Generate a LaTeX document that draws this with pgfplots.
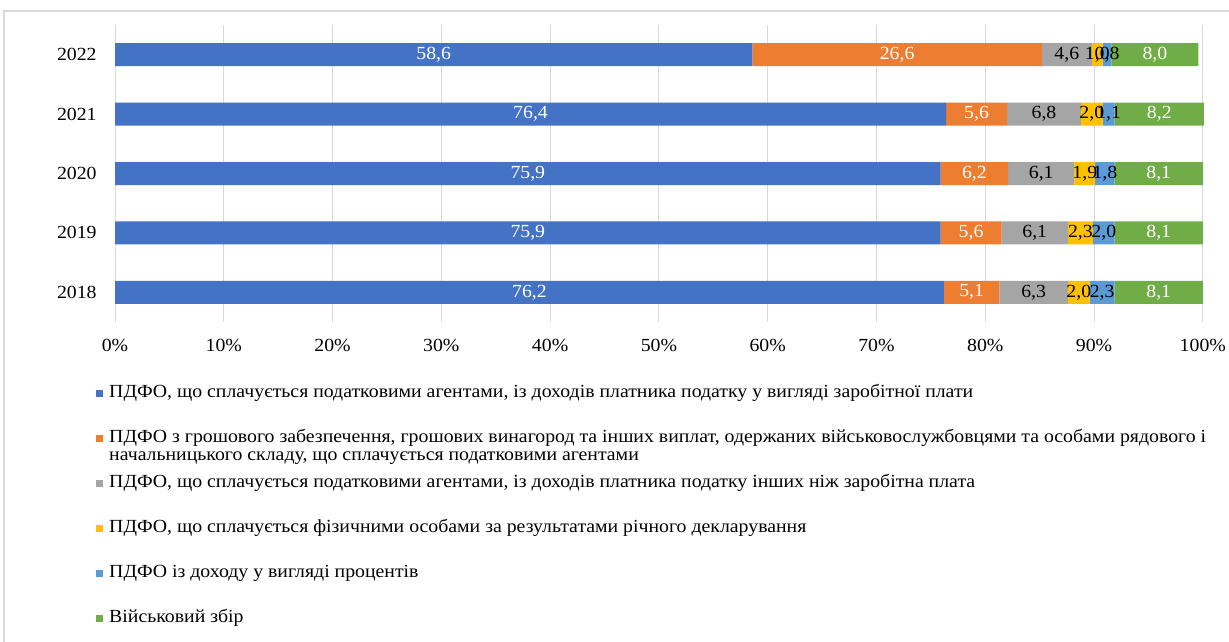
\documentclass[border=0pt]{standalone}
\usepackage{fontspec}
\setmainfont[FakeStretch=1.07]{Liberation Serif}
\usepackage{pgfplots}
\pgfplotsset{compat=1.18}
\definecolor{c1}{HTML}{4472C4}
\definecolor{c2}{HTML}{ED7D31}
\definecolor{c3}{HTML}{A5A5A5}
\definecolor{c4}{HTML}{FFC000}
\definecolor{c5}{HTML}{5B9BD5}
\definecolor{c6}{HTML}{70AD47}
\definecolor{gridc}{HTML}{D9D9D9}
\pgfplotsset{
  mylegend/.style={legend image code/.code={\fill[##1] (0pt,-3.5pt) rectangle (7pt,3.5pt);}},
}
\begin{document}
\fontsize{18.5}{18}\selectfont
\begin{tikzpicture}
\path[use as bounding box] (0,0) rectangle (1229pt,641pt);
\draw[gridc, line width=1.5pt] (4pt,-10pt) -- (4pt,630pt) -- (1240pt,630pt);
\begin{axis}[
  at={(115pt,319pt)}, anchor=south west,
  scale only axis, x=10.878pt, y=59.4pt,
  xmin=0, xmax=100.2, ymin=-0.5, ymax=4.5,
  xbar stacked, bar width=23pt,
  axis line style={draw=none},
  xmajorgrids, grid style={gridc, line width=1pt},
  major tick length=0pt,
  xtick={0,10,...,100},
  xticklabels={0\%,10\%,20\%,30\%,40\%,50\%,60\%,70\%,80\%,90\%,100\%},
  ytick={0,1,2,3,4},
  yticklabels={2018,2019,2020,2021,2022},
  xticklabel style={yshift=-11pt},
  yticklabel style={xshift=-12pt},
  tick label style={font=\fontsize{18.5}{18}\selectfont},
  point meta=explicit,
  nodes near coords={\pgfmathprintnumber[fixed,fixed zerofill,precision=1,use comma,assume math mode=true]{\pgfplotspointmeta}},
  every node near coord/.append style={anchor=center, font=\fontsize{18.5}{18}\selectfont, inner sep=0pt},
  legend cell align=left,
  legend style={at={(axis description cs:-0.0174,-0.212)}, anchor=north west, draw=none, fill=none, inner sep=0pt,
    row sep=29pt, nodes={inner sep=0pt, text height=12pt, text depth=4pt},
    /tikz/every odd column/.append style={column sep=6pt}},
]
\addplot[fill=c1, draw=none, mylegend, every node near coord/.append style={text=white}] coordinates {(76.2,0) [76.2] (75.9,1) [75.9] (75.9,2) [75.9] (76.4,3) [76.4] (58.6,4) [58.6]};
\addlegendentry{ПДФО, що сплачується податковими агентами, із доходів платника податку у вигляді заробітної плати}
\addplot[fill=c2, draw=none, mylegend, every node near coord/.append style={text=white}] coordinates {(5.1,0) [5.1] (5.6,1) [5.6] (6.2,2) [6.2] (5.6,3) [5.6] (26.6,4) [26.6]};
\addlegendentry{\smash{\begin{tabular}[t]{@{}l@{}}ПДФО з грошового забезпечення, грошових винагород та інших виплат, одержаних військовослужбовцями та особами рядового і\\начальницького складу, що сплачується податковими агентами\end{tabular}}}
\addplot[fill=c3, draw=none, mylegend, every node near coord/.append style={text=black}] coordinates {(6.3,0) [6.3] (6.1,1) [6.1] (6.1,2) [6.1] (6.8,3) [6.8] (4.6,4) [4.6]};
\addlegendentry{ПДФО, що сплачується податковими агентами, із доходів платника податку інших ніж заробітна плата}
\addplot[fill=c4, draw=none, mylegend, every node near coord/.append style={text=black}] coordinates {(2.0,0) [2.0] (2.3,1) [2.3] (1.9,2) [1.9] (2.0,3) [2.0] (1.0,4) [1.0]};
\addlegendentry{ПДФО, що сплачується фізичними особами за результатами річного декларування}
\addplot[fill=c5, draw=none, mylegend, every node near coord/.append style={text=black}] coordinates {(2.3,0) [2.3] (2.0,1) [2.0] (1.8,2) [1.8] (1.1,3) [1.1] (0.8,4) [0.8]};
\addlegendentry{ПДФО із доходу у вигляді процентів}
\addplot[fill=c6, draw=none, mylegend, every node near coord/.append style={text=white}] coordinates {(8.1,0) [8.1] (8.1,1) [8.1] (8.1,2) [8.1] (8.2,3) [8.2] (8.0,4) [8.0]};
\addlegendentry{Військовий збір}
\end{axis}
\end{tikzpicture}
\end{document}
